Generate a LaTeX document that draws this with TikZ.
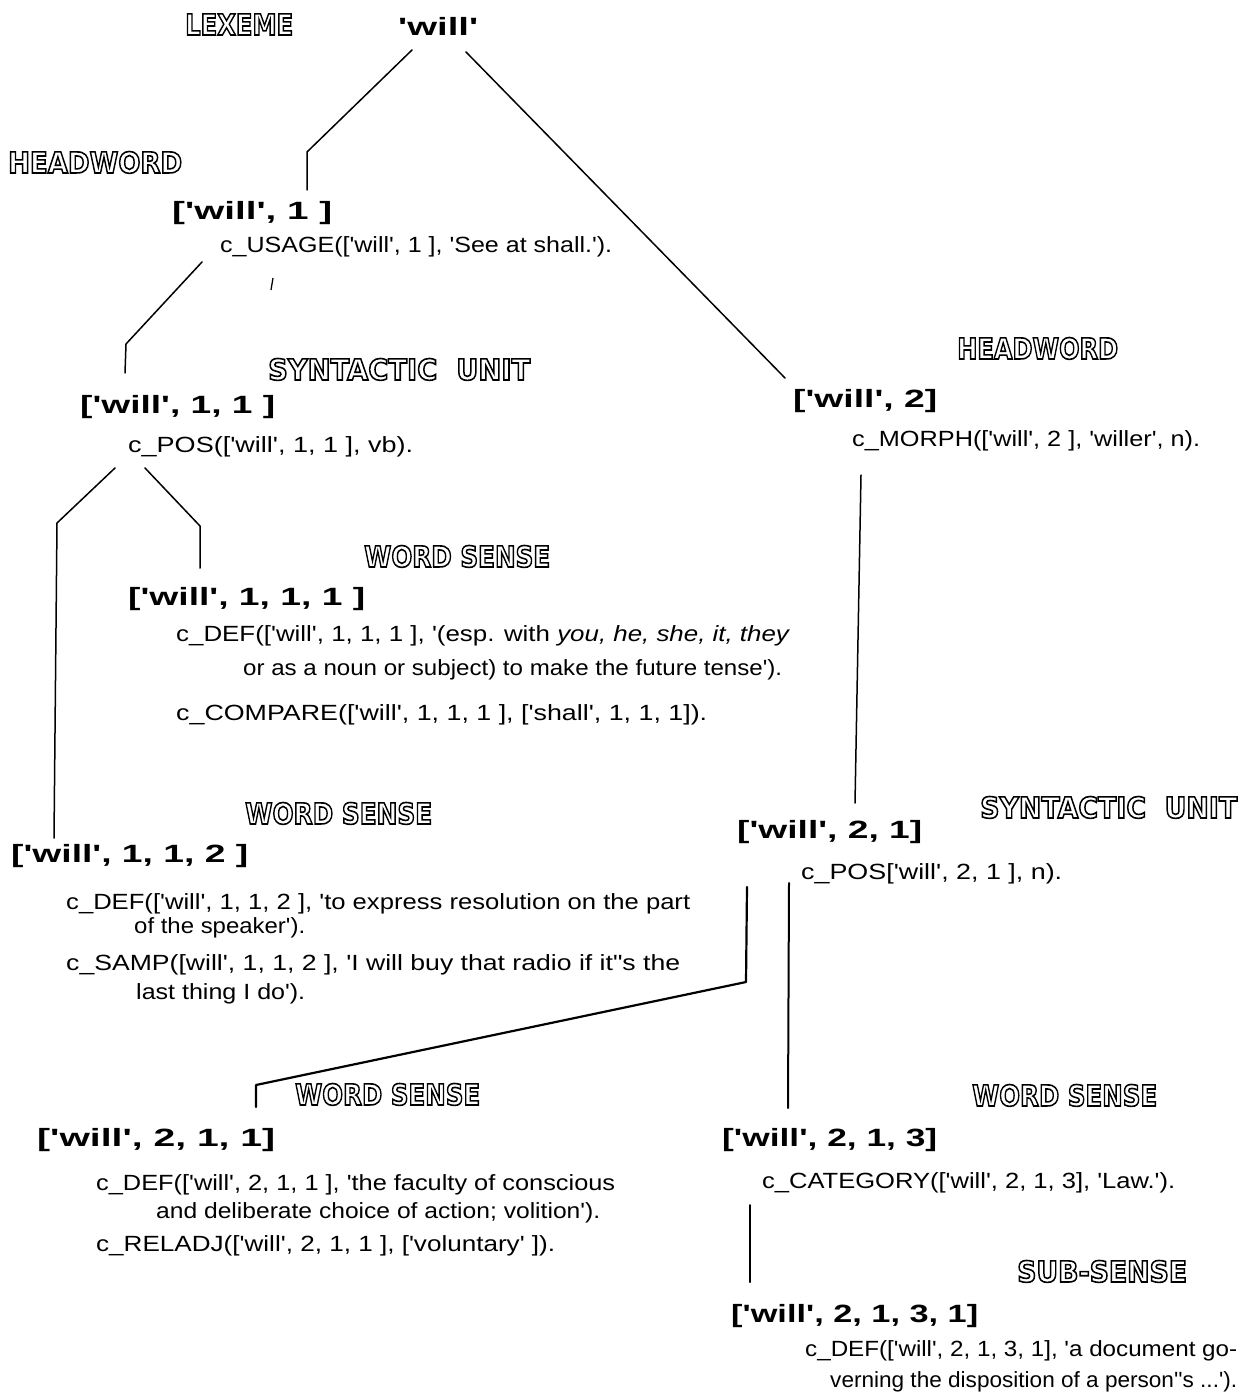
\documentclass[tikz,border=0pt]{standalone}
\usepackage{fontspec}
\usepackage{graphicx}
\newfontfamily\smf[Ligatures=TeXOff]{Liberation Sans}
\newfontfamily\lbf[Ligatures=TeXOff]{DejaVu Sans}
\newsavebox\fitbox
\newcommand\fitw[2]{\sbox\fitbox{#2}\pgfmathsetmacro\fitr{#1/\the\wd\fitbox}\scalebox{\fitr}[1]{\usebox\fitbox}}
\newcommand\olt[1]{\special{pdf:literal direct 1 Tr 1.6 w}#1\special{pdf:literal direct 0 Tr}}
\tikzset{
  txt/.style={anchor=base west, inner sep=0pt, font=\smf\fontsize{22}{24}\selectfont},
  key/.style={anchor=base west, inner sep=0pt, font=\smf\bfseries\fontsize{25}{28}\selectfont},
  lbl/.style={anchor=base west, inner sep=0pt, font=\lbf\bfseries\fontsize{29}{32}\selectfont},
  conn/.style={line width=1.5pt, line join=round, line cap=round},
}
\begin{document}
\begin{tikzpicture}[x=1pt,y=-1pt]
\fill[white] (0,0) rectangle (1255,1399);
\useasboundingbox (0,0) rectangle (1255,1399);

% ---- labels ----
\node[lbl] (lx)  at (185,35)   {\fitw{108}{\olt{LEXEME}}};
\node[lbl] (hw1) at (8,173)    {\fitw{174}{\olt{HEADWORD}}};
\node[lbl] (su1) at (268,380)  {\fitw{262}{\olt{SYNTACTIC\ \ UNIT}}};
\node[lbl] (ws1) at (364,567)  {\fitw{186}{\olt{WORD SENSE}}};
\node[lbl] (ws2) at (245,824)  {\fitw{187}{\olt{WORD SENSE}}};
\node[lbl] (ws3) at (295,1105) {\fitw{185}{\olt{WORD SENSE}}};
\node[lbl] (hw2) at (957,359)  {\fitw{161}{\olt{HEADWORD}}};
\node[lbl] (su2) at (980,818)  {\fitw{257}{\olt{SYNTACTIC\ \ UNIT}}};
\node[lbl] (ws4) at (972,1106) {\fitw{185}{\olt{WORD SENSE}}};
\node[lbl] (ss)  at (1017,1282){\fitw{170}{\olt{SUB-SENSE}}};

% ---- keys ----
\node[key] (lw)   at (398,36)   {\fitw{80}{'will'}};
\node[key] (k1)   at (172,219)  {\fitw{160}{['will', 1 ]}};
\node[key] (k11)  at (80,413)   {\fitw{195}{['will', 1, 1 ]}};
\node[key] (k111) at (128,605)  {\fitw{237}{['will', 1, 1, 1 ]}};
\node[key] (k112) at (11,862)   {\fitw{237}{['will', 1, 1, 2 ]}};
\node[key] (k211) at (37,1146)  {\fitw{238}{['will', 2, 1, 1]}};
\node[key] (k2)   at (793,407)  {\fitw{144}{['will', 2]}};
\node[key] (k21)  at (737,838)  {\fitw{185}{['will', 2, 1]}};
\node[key] (k213) at (722,1146) {\fitw{215}{['will', 2, 1, 3]}};
\node[key] (k2131) at (731,1322){\fitw{247}{['will', 2, 1, 3, 1]}};

% ---- clauses ----
\node[txt] (t1)  at (220,252)  {\fitw{392}{c\_USAGE(['will', 1 ], 'See at shall.').}};
\node[txt] (t2)  at (128,452)  {\fitw{285}{c\_POS(['will', 1, 1 ], vb).}};
\node[txt] (t3)  at (176,641)  {\fitw{614}{c\_DEF(['will', 1, 1, 1 ], '(esp. with \textit{you, he, she, it, they}}};
\node[txt] (t4)  at (243,675)  {\fitw{539}{or as a noun or subject) to make the future tense').}};
\node[txt] (t5)  at (176,720)  {\fitw{531}{c\_COMPARE(['will', 1, 1, 1 ], ['shall', 1, 1, 1]).}};
\node[txt] (t6)  at (66,909)   {\fitw{624}{c\_DEF(['will', 1, 1, 2 ], 'to express resolution on the part}};
\node[txt] (t7)  at (134,933)  {\fitw{171}{of the speaker').}};
\node[txt] (t8)  at (66,970)   {\fitw{614}{c\_SAMP([will', 1, 1, 2 ], 'I will buy that radio if it"s the}};
\node[txt] (t9)  at (136,999)  {\fitw{169}{last thing I do').}};
\node[txt] (t10) at (96,1190)  {\fitw{519}{c\_DEF(['will', 2, 1, 1 ], 'the faculty of conscious}};
\node[txt] (t11) at (156,1218) {\fitw{444}{and deliberate choice of action; volition').}};
\node[txt] (t12) at (96,1251)  {\fitw{459}{c\_RELADJ(['will', 2, 1, 1 ], ['voluntary' ]).}};
\node[txt] (t13) at (852,446)  {\fitw{348}{c\_MORPH(['will', 2 ], 'willer', n).}};
\node[txt] (t14) at (801,879)  {\fitw{261}{c\_POS['will', 2, 1 ], n).}};
\node[txt] (t15) at (762,1188) {\fitw{413}{c\_CATEGORY(['will', 2, 1, 3], 'Law.').}};
\node[txt] (t16) at (805,1356) {\fitw{432}{c\_DEF(['will', 2, 1, 3, 1], 'a document go-}};
\node[txt] (t17) at (830,1387) {\fitw{407}{verning the disposition of a person''s ...').}};

% ---- connector points ----
\coordinate (a1) at (412,50);  \coordinate (a2) at (307,152); \coordinate (a3) at (307,190);
\coordinate (b1) at (466,52);  \coordinate (b2) at (785,378);
\coordinate (c1) at (202,262); \coordinate (c2) at (126,344); \coordinate (c3) at (125,373);
\coordinate (s1) at (273,278); \coordinate (s2) at (271,290);
\coordinate (d1) at (115,468); \coordinate (d2) at (57,523);  \coordinate (d3) at (54,838);
\coordinate (e1) at (145,468); \coordinate (e2) at (200,526); \coordinate (e3) at (200,568);
\coordinate (f1) at (861,475); \coordinate (f2) at (855,803);
\coordinate (g1) at (747,887); \coordinate (g2) at (746,982); \coordinate (g3) at (256,1085); \coordinate (g4) at (256,1107);
\coordinate (h1) at (789,883); \coordinate (h2) at (788,1108);
\coordinate (i1) at (750,1205); \coordinate (i2) at (750,1282);

\draw[conn] (a1) -- (a2) -- (a3);
\draw[conn] (b1) -- (b2);
\draw[conn] (c1) -- (c2) -- (c3);
\draw[line width=1.3pt] (s1) -- (s2);
\draw[conn] (d1) -- (d2) -- (d3);
\draw[conn] (e1) -- (e2) -- (e3);
\draw[conn] (f1) -- (f2);
\draw[conn, line width=2.2pt] (g1) -- (g2) -- (g3) -- (g4);
\draw[conn, line width=2pt] (h1) -- (h2);
\draw[conn, line width=2pt] (i1) -- (i2);
\end{tikzpicture}
\end{document}
